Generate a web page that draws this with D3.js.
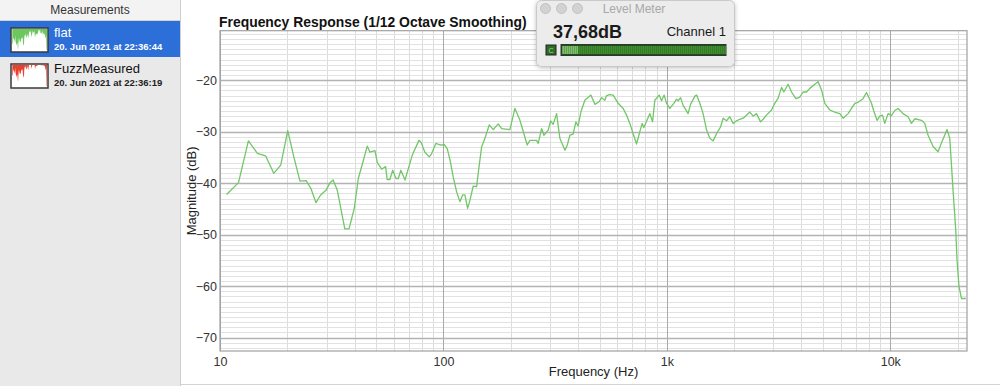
<!DOCTYPE html>
<html>
<head>
<meta charset="utf-8">
<script src="https://cdn.jsdelivr.net/npm/d3@7/dist/d3.min.js"></script>
<style>
  html, body { margin: 0; padding: 0; background: #fff; }
  svg { display: block; font-family: "Liberation Sans", Arial, sans-serif; }
</style>
</head>
<body>
<svg id="chart" width="1000" height="386"></svg>
<script>
// Frequency response (Hz, dB).
const freqs = [
  10.7, 12.1, 13.4, 14.7, 16.0, 17.4, 18.7, 20.1, 21.4, 22.8, 24.3, 25.5, 26.9, 28.2, 29.8,
  31.1, 32.1, 33.5, 36.2, 37.8, 39.9, 41.6, 43.5, 45.6, 46.9, 49.4, 50.6, 52.9, 55.1, 56.0,
  57.6, 59.3, 61.3, 62.8, 64.5, 67.3, 72.5, 77.7, 79.3, 82.6, 86.4, 88.5, 92.5, 95.5, 98.2,
  100.8, 104, 107, 110.6, 114.6, 118.5, 121.9, 124.8, 128.3, 131.5, 135.9, 140.8, 143.1, 148.2,
  153.4, 160.3, 167.1, 175.9, 182.2, 198.4, 208.9, 220, 237.1, 243.8, 261.2, 265.6, 275.1,
  281.7, 294.4, 301.8, 309.9, 321, 332.1, 349.7, 358, 368.1, 380.8, 391.5, 400.9, 412.2,
  429.6, 457, 476.3, 497.9, 510.4, 528, 537.4, 555.9, 575.1, 605.4, 637.5, 660.2, 683.1,
  706.6, 731.8, 757.1, 775.3, 789, 811.3, 839.3, 862.9, 883.6, 923.7, 946.8, 972.5, 997,
  1031, 1075, 1105, 1124, 1152, 1183, 1245, 1276, 1335, 1359, 1405, 1453, 1506, 1557, 1612,
  1669, 1739, 1786, 1850, 1913, 1981, 2050, 2121, 2195, 2273, 2352, 2433, 2520, 2626, 2697,
  2793, 2941, 3042, 3148, 3261, 3339, 3490, 3614, 3778, 3936, 4073, 4217, 4363, 4594, 4753,
  4923, 5093, 5362, 5646, 5943, 6151, 6476, 6707, 6939, 7178, 7556, 7825, 8240, 8437, 8730,
  8974, 9228, 9450, 9777, 10125, 10474, 10837, 11414, 12012, 12441, 12871, 13793, 14270,
  14764, 15545, 16366, 17126, 17954, 18462, 19098, 19637, 19902, 20313, 20824, 21766
];
const magnitudes = [
  -42.2, -39.9, -31.8, -34.2, -34.7, -38.1, -36.5, -29.8, -34.9, -39.6, -39.5, -41.0, -43.8, -42.3, -41.4,
  -39.9, -39.4, -41.4, -48.9, -48.9, -44.9, -39.1, -36.1, -32.8, -34.0, -33.7, -36.0, -37.3, -36.8, -39.3,
  -39.3, -37.5, -39.1, -39.1, -37.5, -39.4, -34.6, -31.7, -32.0, -34.0, -34.9, -34.3, -32.3, -32.5, -32.6,
  -32.5, -33.3, -35.5, -38.8, -41.7, -43.6, -42.3, -42.3, -44.9, -43.3, -40.6, -40.7, -38.1, -33.0,
  -31.3, -28.7, -29.6, -28.5, -29.4, -29.6, -25.5, -27.8, -32.6, -31.7, -31.7, -32.3, -29.4,
  -30.7, -29.7, -27.9, -28.6, -26.5, -31.3, -33.6, -32.7, -30.7, -30.5, -28.1, -28.9, -26.2,
  -23.9, -22.9, -24.7, -24.2, -23.4, -23.9, -23.0, -22.8, -22.9, -24.5, -25.5, -26.8, -28.4,
  -30.4, -32.4, -30.0, -28.4, -29.2, -28.0, -26.5, -28.1, -23.9, -22.9, -24.0, -22.9, -24.5,
  -25.5, -24.5, -23.7, -24.0, -23.4, -24.9, -26.5, -24.7, -23.1, -22.9, -24.5, -26.5, -29.7, -31.3,
  -31.8, -30.4, -29.1, -27.4, -27.9, -27.1, -28.4, -27.9, -27.6, -27.4, -26.8, -26.2, -27.0, -26.5,
  -28.1, -27.6, -26.8, -25.8, -24.5, -23.5, -21.4, -22.3, -20.8, -22.3, -23.6, -23.3, -22.3, -22.3,
  -21.6, -20.8, -20.3, -21.9, -24.5, -25.8, -26.2, -26.5, -27.4, -26.5, -25.5, -24.5, -24.3, -23.6,
  -22.4, -24.5, -26.0, -27.8, -27.0, -26.8, -28.4, -26.5, -26.9, -25.9, -25.5, -26.5, -27.1, -28.4,
  -27.5, -27.8, -28.4, -30.7, -32.9, -33.9, -31.7, -29.6, -31.3, -41.4, -49.1, -55.0, -60.1, -62.4, -62.4
];

const xTickValues = [10, 100, 1000, 10000];
const xTickLabels = ['10', '100', '1k', '10k'];
const yTickValues = [-70, -60, -50, -40, -30, -20];

const measurements = ['flat', 'FuzzMeasured'];
const measurementDates = ['20. Jun 2021 at 22:36:44', '20. Jun 2021 at 22:36:19'];
const measurementColors = ['#6cc75e', '#e8412f'];

const levelReading = '37,68dB';
const channelName = 'Channel 1';

const points = freqs.map((f, i) => ({ f, db: magnitudes[i] }));
const svg = d3.select('#chart');

// ---- sidebar with the measurement list ----
const sidebar = svg.append('g');
sidebar.append('rect').attr('width', 180).attr('height', 386).attr('fill', '#e9e9e9');
sidebar.append('rect').attr('width', 180).attr('height', 20).attr('fill', '#f3f3f3');
sidebar.append('line').attr('x1', 0).attr('x2', 180).attr('y1', 20.5).attr('y2', 20.5).attr('stroke', '#d2d2d2');
sidebar.append('line').attr('x1', 180.5).attr('x2', 180.5).attr('y1', 0).attr('y2', 386).attr('stroke', '#cfcfcf');
sidebar.append('text').attr('x', 90).attr('y', 14).attr('text-anchor', 'middle')
  .attr('font-size', 12).attr('fill', '#333').text('Measurements');

const rowTop = [21, 57];
measurements.forEach((name, i) => {
  const y0 = rowTop[i];
  const selected = i === 0;
  if (selected) sidebar.append('rect').attr('x', 0).attr('y', y0).attr('width', 180).attr('height', 36).attr('fill', '#2d6fd9');

  // mini preview of the response inside the row
  const tx = d3.scaleLog().domain([10, 22050]).range([12, 47]);
  const ty = d3.scaleLinear().domain([-20, -50]).range([y0 + 8, y0 + 29]).clamp(true);
  sidebar.append('rect').attr('x', 11).attr('y', y0 + 7).attr('width', 37).attr('height', 24)
    .attr('fill', '#fff').attr('stroke', '#3a3a3a').attr('stroke-width', 1.5);
  const area = d3.area().x(d => tx(d.f)).y0(y0 + 8).y1(d => ty(d.db + (i ? 6 : 0)));
  sidebar.append('path').datum(points).attr('d', area).attr('fill', measurementColors[i]);

  sidebar.append('text').attr('x', 54).attr('y', y0 + 16).attr('font-size', 13)
    .attr('fill', selected ? '#fff' : '#111').text(name);
  sidebar.append('text').attr('x', 54).attr('y', y0 + 29).attr('font-size', 9.5).attr('font-weight', 700)
    .attr('fill', selected ? '#fff' : '#222').text(measurementDates[i]);
});

// ---- main plot ----
const x = d3.scaleLog().domain([10, 22050]).range([220, 967]);
const y = d3.scaleLinear().domain([-72.6, -10.4]).range([351, 30.7]);
const [plotLeft, plotRight] = x.range();
const [plotBottom, plotTop] = y.range();

svg.append('line').attr('x1', 181).attr('x2', 1000).attr('y1', 384.5).attr('y2', 384.5).attr('stroke', '#d4d4d4');

const grid = svg.append('g');
const minorX = d3.range(1, 5).flatMap(e => d3.range(2, 10).map(m => m * 10 ** e)).filter(v => v < 22050);
grid.selectAll('.mx').data(minorX).join('line')
  .attr('x1', d => Math.round(x(d)) + 0.5).attr('x2', d => Math.round(x(d)) + 0.5)
  .attr('y1', plotTop).attr('y2', plotBottom).attr('stroke', '#dcdcdc');
const minorY = d3.range(-72, -10).filter(v => v % 10 !== 0);
grid.selectAll('.my').data(minorY).join('line')
  .attr('x1', plotLeft).attr('x2', plotRight)
  .attr('y1', d => Math.round(y(d)) + 0.5).attr('y2', d => Math.round(y(d)) + 0.5)
  .attr('stroke', '#e2e2e2');
grid.selectAll('.Mx').data(xTickValues).join('line')
  .attr('x1', d => Math.round(x(d)) + 0.5).attr('x2', d => Math.round(x(d)) + 0.5)
  .attr('y1', plotTop).attr('y2', plotBottom).attr('stroke', '#a9a9a9');
grid.selectAll('.My').data(yTickValues).join('line')
  .attr('x1', plotLeft).attr('x2', plotRight)
  .attr('y1', d => Math.round(y(d)) + 0.5).attr('y2', d => Math.round(y(d)) + 0.5)
  .attr('stroke', '#b3b3b3').attr('stroke-width', 1.3);
svg.append('rect').attr('x', plotLeft).attr('y', plotTop)
  .attr('width', plotRight - plotLeft).attr('height', plotBottom - plotTop)
  .attr('fill', 'none').attr('stroke', '#a0a0a0').attr('stroke-width', 1.2);

const xAxis = d3.axisBottom(x).tickValues(xTickValues).tickSize(0).tickPadding(6)
  .tickFormat((d, i) => xTickLabels[i]);
svg.append('g').attr('transform', `translate(0,${plotBottom})`).call(xAxis)
  .call(g => g.select('.domain').remove())
  .call(g => g.selectAll('text').attr('font-size', 12.5).attr('fill', '#333')
    .attr('font-family', '"Liberation Sans", Arial, sans-serif'));

const yAxis = d3.axisLeft(y).tickValues(yTickValues).tickSize(0).tickPadding(3);
svg.append('g').attr('transform', `translate(${plotLeft},0)`).call(yAxis)
  .call(g => g.select('.domain').remove())
  .call(g => g.selectAll('text').attr('font-size', 12.5).attr('fill', '#333')
    .attr('font-family', '"Liberation Sans", Arial, sans-serif'));

const line = d3.line().x(d => x(d.f)).y(d => y(d.db)).curve(d3.curveLinear);
svg.append('path').datum(points).attr('d', line)
  .attr('fill', 'none').attr('stroke', '#71c767').attr('stroke-width', 1.3).attr('stroke-linejoin', 'round');

// title sized so it ends just before the level meter, as in the app
const title = svg.append('text').attr('x', 219).attr('y', 27).attr('font-size', 15).attr('font-weight', 700)
  .attr('fill', '#111').text('Frequency Response (1/12 Octave Smoothing)');
const titleWidth = title.node().getComputedTextLength();
if (titleWidth > 0) title.attr('font-size', 15 * 308 / titleWidth);

svg.append('text').attr('x', (plotLeft + plotRight) / 2).attr('y', 376).attr('text-anchor', 'middle')
  .attr('font-size', 13).attr('fill', '#222').text('Frequency (Hz)');
svg.append('text').attr('transform', `translate(196,${(plotTop + plotBottom) / 2}) rotate(-90)`)
  .attr('text-anchor', 'middle').attr('font-size', 13).attr('fill', '#222').text('Magnitude (dB)');

// ---- floating level meter window ----
const defs = svg.append('defs');
const shadow = defs.append('filter').attr('id', 'shadow').attr('x', -0.1).attr('y', -0.3).attr('width', 1.2).attr('height', 1.6);
shadow.append('feDropShadow').attr('dx', 0).attr('dy', 1).attr('stdDeviation', 2).attr('flood-opacity', 0.25);
const meter = svg.append('g');
meter.append('rect').attr('x', 536.5).attr('y', 0.5).attr('width', 198).attr('height', 66).attr('rx', 5)
  .attr('fill', '#ececec').attr('stroke', '#c9c9c9').attr('filter', 'url(#shadow)');
meter.selectAll('circle').data([545.5, 561.5, 577.5]).join('circle')
  .attr('cx', d => d).attr('cy', 8.5).attr('r', 5).attr('fill', '#d2d2d2').attr('stroke', '#c2c2c2');
meter.append('text').attr('x', 634).attr('y', 12.5).attr('text-anchor', 'middle')
  .attr('font-size', 12).attr('fill', '#a8a8a8').text('Level Meter');
meter.append('text').attr('x', 553).attr('y', 38).attr('font-size', 18).attr('font-weight', 700)
  .attr('fill', '#1a1a1a').text(levelReading);
meter.append('text').attr('x', 726).attr('y', 36).attr('text-anchor', 'end')
  .attr('font-size', 13).attr('fill', '#1a1a1a').text(channelName);
meter.append('rect').attr('x', 546).attr('y', 45).attr('width', 10).attr('height', 10)
  .attr('fill', '#2e6b25').attr('stroke', '#222');
meter.append('text').attr('x', 551).attr('y', 53).attr('text-anchor', 'middle')
  .attr('font-size', 7).attr('fill', '#9fd98f').text('C');
meter.append('rect').attr('x', 561).attr('y', 44.5).attr('width', 165).attr('height', 11)
  .attr('fill', '#1f4f18').attr('stroke', '#333');
const segs = d3.range(562.5, 725, 2);
meter.selectAll('.seg').data(segs).join('rect')
  .attr('x', d => d).attr('y', 46).attr('width', 1.2).attr('height', 8)
  .attr('fill', (d, i) => i < 8 ? '#a6ee8e' : '#4fa83b');
</script>
</body>
</html>
